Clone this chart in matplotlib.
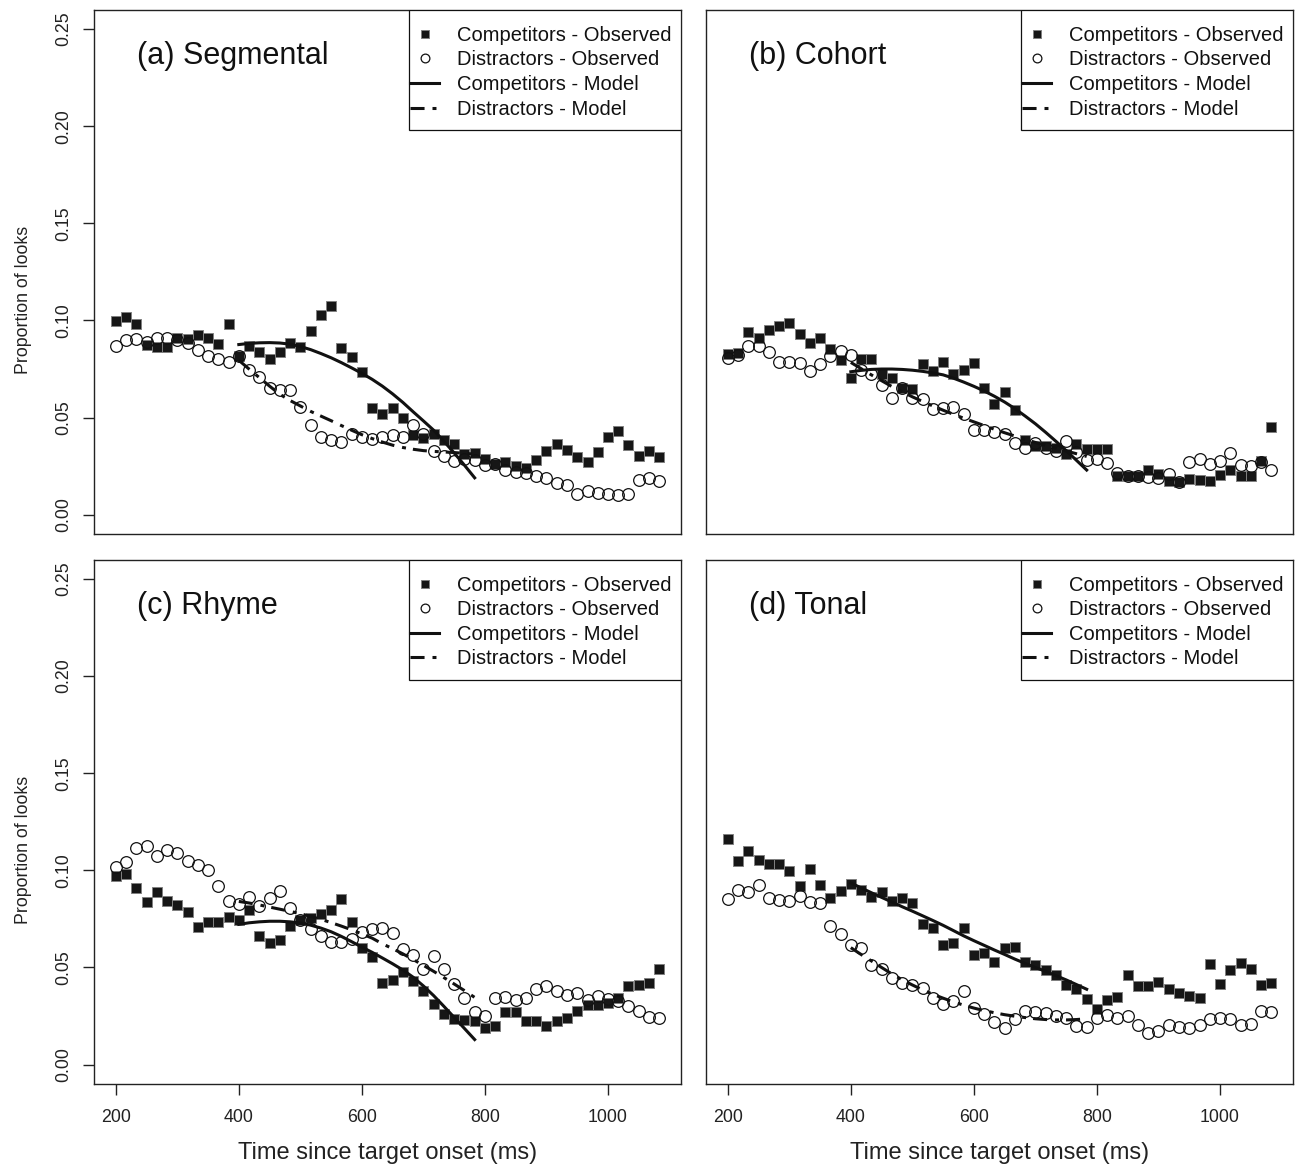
import matplotlib
matplotlib.use("Agg")
import matplotlib.pyplot as plt
from matplotlib.patches import Rectangle

plt.rcParams['font.family'] = ['Liberation Sans', 'DejaVu Sans']

# time bins (ms after target onset), one bin per 60 Hz sample
time_ms = [200.0, 216.7, 233.3, 250.0, 266.7, 283.3, 300.0, 316.7, 333.3, 350.0,
           366.7, 383.3, 400.0, 416.7, 433.3, 450.0, 466.7, 483.3, 500.0, 516.7,
           533.3, 550.0, 566.7, 583.3, 600.0, 616.7, 633.3, 650.0, 666.7, 683.3,
           700.0, 716.7, 733.3, 750.0, 766.7, 783.3, 800.0, 816.7, 833.3, 850.0,
           866.7, 883.3, 900.0, 916.7, 933.3, 950.0, 966.7, 983.3, 1000.0, 1016.7,
           1033.3, 1050.0, 1066.7, 1083.3]
# the growth curve models were fitted on the 400-783 ms window
model_time = time_ms[12:36]

# (a) Segmental
seg_comp = [0.0997, 0.102, 0.098, 0.0876, 0.0864, 0.0864, 0.0912, 0.0907, 0.0923, 0.091,
            0.0878, 0.098, 0.0815, 0.0867, 0.0838, 0.0803, 0.0837, 0.0886, 0.0864, 0.0944,
            0.103, 0.1073, 0.0857, 0.0813, 0.0736, 0.0548, 0.0517, 0.0548, 0.050, 0.041,
            0.0395, 0.0417, 0.0383, 0.0364, 0.0313, 0.0316, 0.0286, 0.0259, 0.0269, 0.0252,
            0.0243, 0.028, 0.0328, 0.0362, 0.0335, 0.0298, 0.0272, 0.0321, 0.040, 0.0432,
            0.036, 0.0303, 0.0328, 0.0298]
seg_dist = [0.0869, 0.0898, 0.0903, 0.0889, 0.0912, 0.091, 0.0901, 0.0884, 0.0847, 0.0818,
            0.0801, 0.0787, 0.0815, 0.0745, 0.0711, 0.0653, 0.0643, 0.0643, 0.0555, 0.0463,
            0.0401, 0.0383, 0.0374, 0.0418, 0.040, 0.039, 0.0401, 0.0412, 0.040, 0.0464,
            0.0415, 0.0327, 0.030, 0.0274, 0.0286, 0.0282, 0.0257, 0.0259, 0.023, 0.0219,
            0.0213, 0.0197, 0.0189, 0.0162, 0.0151, 0.0109, 0.0122, 0.0112, 0.0107, 0.0104,
            0.0109, 0.0179, 0.0189, 0.0172]
seg_comp_model = [0.0876, 0.0882, 0.0885, 0.0886, 0.0884, 0.0878, 0.0866, 0.0850, 0.0830, 0.0808,
                  0.0783, 0.0756, 0.0728, 0.0697, 0.0662, 0.0622, 0.0578, 0.0530, 0.0483, 0.0435,
                  0.0378, 0.0318, 0.0255, 0.0190]
seg_dist_model = [0.0795, 0.0750, 0.0706, 0.0662, 0.0620, 0.0588, 0.0560, 0.0532, 0.0508, 0.0484,
                  0.0459, 0.0435, 0.0412, 0.0392, 0.0374, 0.0358, 0.0346, 0.0337, 0.0330, 0.0326,
                  0.0323, 0.0320, 0.0316, 0.0312]

# (b) Cohort
coh_comp = [0.0825, 0.083, 0.094, 0.091, 0.095, 0.0973, 0.0988, 0.093, 0.0886, 0.091,
            0.0852, 0.0796, 0.0706, 0.0801, 0.0801, 0.0724, 0.0704, 0.065, 0.0646, 0.0774,
            0.0741, 0.0787, 0.0726, 0.0743, 0.0782, 0.0651, 0.0571, 0.0634, 0.0539, 0.0386,
            0.0354, 0.0352, 0.0342, 0.0315, 0.0366, 0.0337, 0.0337, 0.0337, 0.0197, 0.0197,
            0.0201, 0.0228, 0.0209, 0.0175, 0.017, 0.0184, 0.0179, 0.0175, 0.0206, 0.0228,
            0.0201, 0.0201, 0.0276, 0.045]
coh_dist = [0.0808, 0.0821, 0.0871, 0.0871, 0.0837, 0.0787, 0.0786, 0.0781, 0.0738, 0.0774,
            0.0816, 0.0842, 0.0823, 0.0745, 0.0724, 0.0667, 0.060, 0.0653, 0.060, 0.0595,
            0.0546, 0.0547, 0.0556, 0.0517, 0.0435, 0.0435, 0.0427, 0.0413, 0.0371, 0.0344,
            0.0367, 0.0342, 0.033, 0.0379, 0.0323, 0.0281, 0.0289, 0.0264, 0.0214, 0.0201,
            0.0201, 0.0196, 0.0187, 0.0208, 0.017, 0.027, 0.0287, 0.026, 0.0274, 0.0316,
            0.0257, 0.0252, 0.027, 0.0228]
coh_comp_model = [0.0736, 0.0743, 0.0748, 0.0750, 0.0750, 0.0748, 0.0744, 0.0738, 0.0730, 0.0720,
                  0.0703, 0.0683, 0.0661, 0.0637, 0.0610, 0.0580, 0.0546, 0.0508, 0.0468, 0.0424,
                  0.0378, 0.0330, 0.0280, 0.0230]
coh_dist_model = [0.0784, 0.0752, 0.0720, 0.0690, 0.0660, 0.0633, 0.0607, 0.0583, 0.0560, 0.0538,
                  0.0517, 0.0497, 0.0478, 0.0459, 0.0440, 0.0422, 0.0405, 0.0388, 0.0372, 0.0357,
                  0.0342, 0.0328, 0.0314, 0.0300]

# (c) Rhyme
rhy_comp = [0.0973, 0.0979, 0.091, 0.0835, 0.0888, 0.0842, 0.0822, 0.0786, 0.0708, 0.0733,
            0.0733, 0.0759, 0.0745, 0.0795, 0.0662, 0.0627, 0.0641, 0.0716, 0.0743, 0.0753,
            0.0777, 0.0795, 0.0851, 0.0733, 0.0602, 0.0556, 0.0418, 0.0438, 0.0477, 0.0428,
            0.038, 0.0314, 0.0259, 0.0237, 0.0228, 0.0224, 0.0191, 0.0201, 0.027, 0.027,
            0.0227, 0.0227, 0.0201, 0.0225, 0.0239, 0.0275, 0.0309, 0.0309, 0.0317, 0.0341,
            0.0406, 0.0411, 0.0419, 0.0491]
rhy_dist = [0.1019, 0.1043, 0.1113, 0.1124, 0.1076, 0.1103, 0.1091, 0.105, 0.1028, 0.1003,
            0.0921, 0.084, 0.0825, 0.0861, 0.0815, 0.0856, 0.0894, 0.0808, 0.0743, 0.0699,
            0.0663, 0.0631, 0.0631, 0.0645, 0.0685, 0.0696, 0.0701, 0.068, 0.0593, 0.0563,
            0.049, 0.0561, 0.0493, 0.0416, 0.0341, 0.0271, 0.0251, 0.0344, 0.0349, 0.0334,
            0.0344, 0.039, 0.0406, 0.038, 0.036, 0.0367, 0.0331, 0.0353, 0.0336, 0.0326,
            0.0302, 0.0275, 0.0247, 0.0239]
rhy_comp_model = [0.0722, 0.0730, 0.0735, 0.0738, 0.0738, 0.0735, 0.0729, 0.0718, 0.0703, 0.0684,
                  0.0660, 0.0633, 0.0605, 0.0578, 0.0549, 0.0519, 0.0487, 0.0450, 0.0405, 0.0355,
                  0.0300, 0.0243, 0.0186, 0.0129]
rhy_dist_model = [0.0840, 0.0832, 0.0822, 0.0811, 0.0800, 0.0789, 0.0777, 0.0763, 0.0748, 0.0731,
                  0.0713, 0.0694, 0.0673, 0.0651, 0.0622, 0.0597, 0.0570, 0.0541, 0.0511, 0.0480,
                  0.0448, 0.0415, 0.0381, 0.0346]

# (d) Tonal
ton_comp = [0.116, 0.105, 0.11, 0.1055, 0.1035, 0.1033, 0.0997, 0.0922, 0.1009, 0.0926,
            0.0859, 0.0892, 0.0928, 0.0899, 0.0864, 0.0887, 0.084, 0.0856, 0.083, 0.0726,
            0.0704, 0.0615, 0.0628, 0.0702, 0.0563, 0.0573, 0.0528, 0.0602, 0.0605, 0.053,
            0.0513, 0.0486, 0.0462, 0.0411, 0.039, 0.0338, 0.0286, 0.0332, 0.0349, 0.0462,
            0.0406, 0.0406, 0.0425, 0.039, 0.037, 0.0351, 0.0343, 0.0518, 0.0416, 0.0486,
            0.0523, 0.0493, 0.0411, 0.0421]
ton_dist = [0.0851, 0.09, 0.0887, 0.0924, 0.0858, 0.0849, 0.0844, 0.0866, 0.0839, 0.0834,
            0.0713, 0.067, 0.0614, 0.0602, 0.0515, 0.0493, 0.0447, 0.0418, 0.0409, 0.0394,
            0.0341, 0.031, 0.0329, 0.0377, 0.0293, 0.0259, 0.0218, 0.0189, 0.0237, 0.0278,
            0.0273, 0.0268, 0.0249, 0.024, 0.0201, 0.0196, 0.0239, 0.0254, 0.0242, 0.0249,
            0.0205, 0.0165, 0.0172, 0.0206, 0.0193, 0.0186, 0.0206, 0.0234, 0.0242, 0.0234,
            0.0206, 0.0208, 0.0278, 0.027]
ton_comp_model = [0.0935, 0.0910, 0.0885, 0.0861, 0.0837, 0.0813, 0.0790, 0.0766, 0.0742, 0.0717,
                  0.0690, 0.0663, 0.0638, 0.0614, 0.0590, 0.0567, 0.0543, 0.0521, 0.0500, 0.0480,
                  0.0458, 0.0436, 0.0412, 0.0388]
ton_dist_model = [0.0602, 0.0567, 0.0534, 0.0500, 0.0467, 0.0437, 0.0410, 0.0385, 0.0362, 0.0342,
                  0.0323, 0.0306, 0.0291, 0.0278, 0.0267, 0.0257, 0.0249, 0.0242, 0.0236, 0.0232,
                  0.0230, 0.0230, 0.0232, 0.0236]

x_ticks = [200, 400, 600, 800, 1000]
y_ticks = [0.00, 0.05, 0.10, 0.15, 0.20, 0.25]

INK = '#111111'
AXIS = '#222222'


# one panel: observed points, model curves, legend and panel title
def draw_panel(ax, title, comp_obs, dist_obs, comp_model, dist_model, show_x, show_y):
    ax.plot(time_ms, comp_obs, linestyle='none', marker='s', markersize=7.4,
            markerfacecolor='#161616', markeredgecolor='#808080', markeredgewidth=0.7,
            label='Competitors - Observed')
    ax.plot(time_ms, dist_obs, linestyle='none', marker='o', markersize=8.4,
            markerfacecolor='none', markeredgecolor=INK, markeredgewidth=0.9,
            label='Distractors - Observed')
    ax.plot(model_time, comp_model, color=INK, linewidth=2.2,
            label='Competitors - Model')
    ax.plot(model_time, dist_model, color=INK, linewidth=2.2, dashes=(4.6, 2.6, 1.3, 2.3),
            label='Distractors - Model')

    # R style limits: data range padded by 4 %
    ax.set_xlim(164.7, 1118.7)
    ax.set_ylim(-0.01, 0.26)

    for s in ax.spines.values():
        s.set_color(AXIS)
        s.set_linewidth(1.0)

    ax.set_xticks(x_ticks)
    ax.set_yticks(y_ticks)
    ax.set_yticklabels(['%.2f' % v for v in y_ticks], rotation=90, va='center')
    ax.tick_params(direction='out', length=7.8, width=1.0, color=AXIS,
                   labelsize=12.8, labelcolor=AXIS, pad=8)
    ax.tick_params(axis='x', bottom=show_x, labelbottom=show_x, pad=10.5)
    ax.tick_params(axis='y', left=show_y, labelleft=show_y)

    if show_x:
        ax.set_xlabel('Time since target onset (ms)', fontsize=17, color=AXIS)
        ax.xaxis.set_label_coords(0.5, -0.11)
    if show_y:
        ax.set_ylabel('Proportion of looks', fontsize=12.8, color=AXIS)
        ax.yaxis.set_label_coords(-0.1056, 0.446)

    ax.text(0.0733, 0.912, title, transform=ax.transAxes, ha='left', va='center',
            fontsize=22, color=INK)

    # legend box flush with the top right corner, handles close to its left edge
    ax.add_patch(Rectangle((0.5366, 0.7705), 0.4634, 0.2295, transform=ax.transAxes,
                           facecolor='white', edgecolor=INK, linewidth=0.9, zorder=4))
    leg = ax.legend(loc='upper left', bbox_to_anchor=(0.5383, 0.9695), borderaxespad=0,
                    frameon=False, fontsize=14.5, handlelength=1.45, handletextpad=0.88,
                    labelspacing=0.28, borderpad=0, markerscale=0.75)
    leg.set_zorder(5)
    for t in leg.get_texts():
        t.set_color(INK)


fig = plt.figure(figsize=(12.95, 11.66), dpi=100)

# panel boxes in figure fractions
w, h = 0.4533, 0.4498
ax_a = fig.add_axes([0.0726, 0.5419, w, h])
ax_b = fig.add_axes([0.5452, 0.5419, w, h])
ax_c = fig.add_axes([0.0726, 0.0703, w, h])
ax_d = fig.add_axes([0.5452, 0.0703, w, h])

draw_panel(ax_a, '(a) Segmental', seg_comp, seg_dist, seg_comp_model, seg_dist_model, False, True)
draw_panel(ax_b, '(b) Cohort', coh_comp, coh_dist, coh_comp_model, coh_dist_model, False, False)
draw_panel(ax_c, '(c) Rhyme', rhy_comp, rhy_dist, rhy_comp_model, rhy_dist_model, True, True)
draw_panel(ax_d, '(d) Tonal', ton_comp, ton_dist, ton_comp_model, ton_dist_model, True, False)

fig.savefig('out.png', dpi=100, facecolor='white')
